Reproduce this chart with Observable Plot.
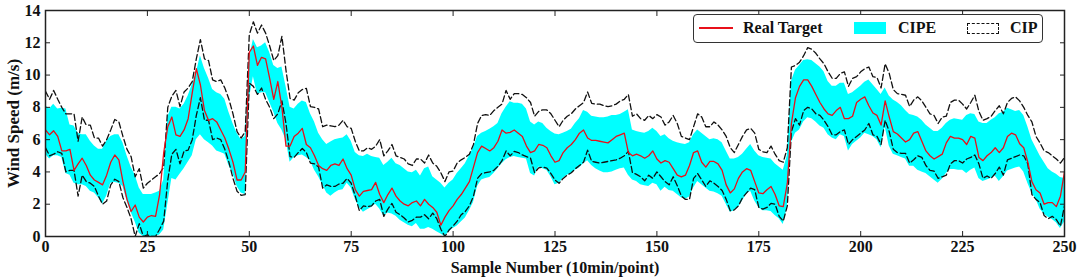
<!DOCTYPE html>
<html><head><meta charset="utf-8">
<script src="https://cdn.jsdelivr.net/npm/d3@7"></script>
<script src="https://cdn.jsdelivr.net/npm/@observablehq/plot@0.6"></script>
<style>
body{margin:0;background:#fff;}
#wrap{position:relative;width:1079px;height:280px;font-family:"Liberation Serif","Times New Roman",serif;font-weight:bold;color:#111;}
#legend{position:absolute;left:693px;top:14px;width:350px;height:29px;box-sizing:border-box;border:1.5px solid #333;border-radius:4px;background:#fff;font-size:16px;}
#legend .t{position:absolute;top:0;line-height:26px;}
#legend .ln{position:absolute;left:5px;top:12px;width:34px;height:1.5px;background:#e8101a;}
#legend .sw{position:absolute;left:160px;top:7px;width:32px;height:12px;background:#00ffff;}
#legend .ds{position:absolute;left:273px;top:8px;width:30px;height:9px;border:1.3px dashed #111;}
</style></head>
<body><div id="wrap"></div>
<script>
const xTickValues = [0,25,50,75,100,125,150,175,200,225,250];
const yTickValues = [0,2,4,6,8,10,12,14];
const seriesNames = ["Real Target","CIPE","CIP"];

const realTarget = [
6.6,6.3,6.55,6.2,5.3,5.3,5.4,4.1,4.5,4.85,
4.4,3.8,3.5,3.35,3.2,3.8,4.6,5.05,4.75,3.4,
2.3,1.55,1.95,1.2,0.9,1.2,1.3,1.25,2.6,5.2,
6.8,7.4,6.3,6.2,6.6,7.3,8.9,10.4,9.4,7.8,
7.2,7.3,7.1,6.6,6.1,5.4,4.6,3.5,3.5,4.0,
11.4,11.8,10.6,11.1,11.0,9.8,8.5,9.6,8.0,5.6,
5.6,6.2,6.4,6.7,5.7,5.5,5.0,4.4,4.2,4.1,
4.4,4.5,4.4,4.8,4.2,3.8,2.9,2.5,2.8,2.85,
2.9,3.35,2.6,2.1,2.6,3.0,2.5,2.2,2.0,1.9,
2.1,2.2,1.9,2.3,2.0,1.8,1.5,0.7,1.2,1.6,
1.9,2.3,2.6,3.0,3.4,4.3,5.2,5.6,5.45,5.3,
5.5,5.9,6.6,6.4,6.45,6.6,6.4,6.2,5.6,5.2,
5.3,5.7,5.65,5.5,5.0,4.6,4.7,5.2,5.5,5.7,
6.0,6.4,6.6,6.1,5.95,5.95,5.9,5.85,5.8,6.0,
6.2,6.3,6.4,5.2,5.0,5.1,5.0,4.85,5.0,5.3,
4.8,4.55,4.7,4.6,4.2,3.8,3.7,3.8,4.4,5.2,
5.3,4.6,4.3,4.65,4.65,4.5,4.1,3.2,2.7,2.95,
3.6,4.0,4.2,4.1,3.4,2.7,2.65,2.9,3.1,2.6,
1.9,1.85,3.3,7.0,8.6,9.3,9.7,9.7,9.3,8.8,
8.3,7.9,7.6,7.5,7.8,8.0,7.3,7.3,7.45,8.3,
8.5,8.65,8.1,7.65,7.5,6.9,8.4,7.4,6.5,6.35,
6.1,5.85,6.0,6.4,6.5,5.9,5.3,5.0,4.8,4.95,
5.1,5.8,6.2,6.1,6.1,6.0,5.7,6.2,6.1,4.9,
4.7,5.0,5.2,5.5,5.2,5.5,6.2,6.4,6.3,5.75,
5.5,4.6,3.4,2.9,2.7,2.0,2.1,2.1,1.85,2.5,
4.0];

const cipeUpper = [
8.1,7.9,8.2,7.9,7.95,7.9,6.9,6.85,6.4,6.3,
6.3,5.9,5.6,5.4,5.4,5.9,6.2,6.3,6.3,5.8,
5.0,4.3,3.8,3.0,2.6,2.6,2.6,2.7,2.8,3.5,
7.4,8.0,8.0,7.9,8.2,8.7,9.4,10.1,11.2,10.4,
9.8,9.1,8.9,8.8,8.5,7.7,7.0,6.4,6.0,6.2,
11.0,12.2,11.7,11.8,12.0,11.4,10.6,10.4,10.5,9.3,
8.0,7.9,8.2,8.4,8.3,7.6,7.1,6.4,6.0,5.7,
5.85,6.0,6.05,6.1,6.3,5.9,5.2,5.0,4.95,5.1,
4.95,4.9,4.85,4.4,4.6,4.85,4.5,4.4,4.2,4.0,
3.95,4.1,3.75,4.2,4.3,3.7,3.5,3.3,3.0,3.3,
3.5,3.9,4.2,4.5,5.0,5.5,6.2,6.4,6.5,6.65,
6.8,7.0,7.6,8.0,8.35,8.25,8.25,8.2,7.9,7.1,
6.9,7.1,7.0,6.7,6.5,6.35,6.3,6.4,6.5,6.65,
7.0,7.3,7.8,7.7,7.45,7.4,7.35,7.35,7.4,7.5,
7.5,7.55,7.7,7.85,6.6,6.5,6.45,6.4,6.5,6.7,
6.5,6.2,6.3,6.05,5.9,5.8,5.75,5.7,5.8,6.3,
6.6,6.4,6.2,6.0,6.05,6.0,5.8,5.3,4.8,4.8,
4.9,5.1,5.4,5.7,5.3,5.0,4.9,4.85,4.8,4.5,
4.3,4.1,5.0,9.6,10.3,10.6,10.9,10.95,10.9,10.7,
10.5,10.2,9.6,9.3,9.3,9.5,9.5,8.8,8.9,9.1,
9.3,9.55,9.7,9.4,9.1,8.8,9.2,8.7,8.45,8.3,
8.1,7.8,7.55,7.5,7.4,7.2,6.9,6.7,6.5,6.5,
6.7,7.0,7.2,7.3,7.25,7.2,7.5,7.6,7.55,7.1,
7.0,7.0,7.2,7.35,7.6,7.7,7.95,7.85,7.75,7.8,
7.5,6.8,6.0,5.5,5.0,4.6,4.2,4.0,3.85,3.65,
3.6];

const cipeLower = [
5.1,4.8,5.0,5.0,4.9,3.9,3.8,3.3,3.2,3.2,
3.1,2.8,2.7,2.4,2.0,2.5,3.3,3.35,3.3,3.1,
2.2,1.5,0.9,0.2,0.0,0.0,0.0,0.0,0.1,0.4,
2.0,3.6,3.5,3.85,4.2,4.6,5.0,6.0,6.3,6.0,
5.8,5.6,5.3,5.2,5.1,4.4,3.9,3.1,2.7,2.6,
8.5,9.9,8.8,8.9,8.9,8.3,7.7,7.0,6.6,6.0,
4.6,4.9,5.0,5.05,4.9,4.7,4.1,3.7,3.2,2.7,
2.5,2.7,2.85,2.9,3.3,3.0,2.3,1.8,1.5,1.65,
1.8,2.0,1.7,1.25,1.45,1.4,1.25,1.0,0.85,0.7,
0.6,0.8,0.45,0.45,0.55,0.45,0.3,0.15,0.0,0.3,
0.5,0.65,0.9,1.15,1.6,2.1,3.1,3.5,3.6,3.65,
3.9,4.2,4.5,4.75,4.9,4.95,4.9,4.85,4.8,3.9,
3.75,4.3,4.2,4.1,3.7,3.2,3.3,3.6,3.8,3.9,
4.1,4.25,4.5,4.7,4.4,4.2,4.05,3.95,3.95,4.0,
4.1,4.2,4.25,3.8,3.5,3.4,3.2,3.15,3.1,3.3,
3.2,2.8,3.05,2.85,2.8,2.6,2.4,2.3,2.45,3.0,
3.4,3.2,3.0,2.8,2.75,2.65,2.5,2.0,1.5,1.6,
1.8,2.2,2.6,2.8,2.2,1.8,1.6,1.6,1.55,1.3,
1.1,0.75,1.8,5.8,6.4,6.6,7.1,7.35,7.3,7.1,
6.85,6.7,6.3,6.1,6.0,6.3,6.2,5.3,5.7,5.9,
6.1,6.4,6.3,6.2,6.0,5.5,6.8,5.6,5.1,5.0,
4.9,4.8,4.35,4.35,4.1,4.0,3.9,3.7,3.5,3.3,
3.55,3.9,4.15,4.15,4.1,4.1,3.9,4.1,4.25,3.6,
3.4,3.5,3.6,3.75,3.4,3.7,4.05,4.15,4.25,4.3,
4.0,3.3,2.7,2.3,1.7,1.4,1.2,1.05,0.85,0.5,
0.9];

const cipUpper = [
9.0,8.5,9.05,8.5,8.0,7.6,7.6,7.6,5.9,7.4,
6.9,6.9,6.1,6.1,5.6,6.0,6.6,7.25,7.1,6.2,
5.4,4.95,3.7,4.2,3.0,3.3,3.5,3.7,3.9,4.3,
8.0,8.7,9.05,8.05,8.95,9.2,9.6,11.0,12.2,11.0,
10.9,9.7,9.6,9.7,9.2,8.5,7.6,6.5,6.1,6.5,
12.5,13.3,12.6,13.1,12.6,11.8,10.9,11.2,12.4,10.3,
8.55,8.45,8.9,9.1,9.18,8.05,8.0,7.9,6.8,6.9,
6.85,6.8,6.9,7.2,6.8,6.7,5.9,5.3,5.3,5.5,
5.4,5.6,6.0,5.0,5.3,5.7,5.0,4.9,4.8,4.5,
4.4,4.8,4.8,4.55,5.05,4.55,4.35,3.95,3.4,4.0,
4.05,4.55,4.75,4.9,5.1,5.7,7.0,7.5,7.55,7.5,
7.8,8.0,8.2,9.05,8.5,8.85,8.85,8.8,8.6,8.3,
7.45,7.75,7.85,7.84,7.6,7.2,6.8,7.2,7.45,7.6,
7.9,8.1,8.3,8.95,8.25,8.2,8.2,8.1,8.05,8.1,
8.2,8.4,8.5,8.8,7.45,7.6,7.3,7.2,7.5,7.3,
7.55,7.4,6.9,7.1,7.5,7.0,6.2,6.1,6.0,6.8,
7.6,7.4,6.8,6.8,7.1,6.9,6.6,6.2,5.5,5.2,
5.7,6.2,6.6,6.7,6.4,5.4,5.25,5.2,5.6,5.1,
4.7,4.6,5.5,10.5,10.6,10.8,11.2,11.7,11.6,11.35,
11.0,10.7,10.2,9.8,9.8,10.1,10.2,9.3,9.8,9.9,
10.2,10.4,10.5,9.9,9.85,9.2,10.7,10.1,9.1,8.85,
8.8,8.75,8.05,8.45,8.65,8.4,8.0,7.6,7.5,7.0,
7.4,7.45,8.3,8.45,8.45,8.2,7.9,8.3,8.75,7.75,
7.2,7.3,7.45,7.8,8.1,7.6,8.3,8.55,8.65,8.4,
8.0,7.5,7.1,6.2,5.8,5.3,5.2,5.0,4.8,4.55,
4.9];

const cipLower = [
5.5,5.0,5.1,5.25,5.15,4.0,4.1,4.1,2.5,3.8,
3.4,3.3,3.1,2.5,2.0,2.2,3.2,3.55,3.4,2.4,
1.8,1.1,0.0,0.8,0.0,0.1,0.0,0.0,0.45,0.95,
3.5,5.1,5.4,4.5,5.3,5.35,6.0,7.5,8.6,7.2,
7.2,6.0,6.1,6.0,5.4,4.6,3.6,2.8,2.55,2.6,
9.5,9.3,8.8,9.2,8.5,8.0,7.3,7.6,8.4,7.0,
4.95,4.9,5.2,5.45,5.2,4.55,4.5,4.3,3.0,3.2,
3.1,3.1,3.25,3.3,3.6,3.3,2.5,1.6,1.9,1.85,
1.9,2.2,2.3,1.25,1.7,2.05,1.5,1.35,1.15,0.9,
1.0,1.2,1.2,1.35,1.1,1.45,1.1,0.45,0.0,0.4,
0.65,0.95,1.35,1.55,1.9,2.5,3.6,3.9,3.95,4.0,
4.1,4.35,4.7,5.3,5.0,5.27,5.2,5.05,4.95,4.85,
3.95,4.25,4.3,4.24,3.9,3.5,3.3,3.6,3.8,3.95,
4.2,4.4,4.6,5.35,4.65,4.6,4.55,4.6,4.65,4.7,
4.75,4.85,5.0,5.27,3.95,3.85,3.7,3.45,3.8,3.6,
4.0,3.7,3.4,3.2,3.7,3.15,2.5,2.3,2.3,3.6,
3.9,3.5,3.1,3.45,3.3,3.1,2.85,2.3,1.6,1.65,
1.9,2.4,2.7,3.0,2.9,1.8,1.7,1.8,2.05,2.0,
1.25,0.95,1.9,6.5,7.3,6.9,7.8,8.0,7.9,7.6,
7.5,7.2,6.8,6.3,6.3,6.5,6.6,5.7,6.0,6.2,
6.4,6.6,7.0,6.3,6.2,5.7,7.2,6.5,5.4,5.2,
5.15,5.15,4.55,4.75,5.0,4.9,4.4,4.1,4.05,3.6,
3.7,3.8,4.5,4.7,4.7,4.55,4.8,4.9,5.05,4.5,
3.6,3.75,3.6,3.9,4.3,3.8,4.75,4.85,4.95,5.05,
5.0,4.5,2.6,2.3,2.1,1.3,1.1,1.25,1.05,0.65,
1.9];

const sampleNumbers = d3.range(realTarget.length);
const rows = sampleNumbers.map((s, i) => ({
  s, real: realTarget[i], eu: cipeUpper[i], el: cipeLower[i], cu: cipUpper[i], cl: cipLower[i]
}));

const font = '"Liberation Serif","Times New Roman",serif';
const chart = Plot.plot({
  width: 1079, height: 280,
  marginLeft: 45, marginRight: 15, marginTop: 10, marginBottom: 44,
  style: {fontFamily: font, fontWeight: "bold", fontSize: "16px", color: "#111", background: "#fff"},
  x: {domain: [0, 250]},
  y: {domain: [0, 14]},
  marks: [
    Plot.areaY(rows, {x: "s", y1: "el", y2: "eu", fill: "#00ffff", clip: true}),
    Plot.line(rows, {x: "s", y: "cu", stroke: "#111", strokeWidth: 1.3, strokeDasharray: "6,3", clip: true}),
    Plot.line(rows, {x: "s", y: "cl", stroke: "#111", strokeWidth: 1.3, strokeDasharray: "6,3", clip: true}),
    Plot.line(rows, {x: "s", y: "real", stroke: "#e8101a", strokeWidth: 1.3, clip: true}),
    Plot.frame({stroke: "#222", strokeWidth: 1.5}),
    Plot.axisX({ticks: xTickValues, tickSize: 0, tickPadding: 4, label: null, fontSize: 16, fontWeight: "bold"}),
    Plot.axisX({ticks: xTickValues, tickSize: -5, fill: "none", stroke: "#222"}),
    Plot.axisX({ticks: xTickValues, anchor: "top", tickSize: -5, fill: "none", stroke: "#222"}),
    Plot.axisY({ticks: yTickValues, tickSize: 0, tickPadding: 5, label: null, fontSize: 16, fontWeight: "bold"}),
    Plot.axisY({ticks: yTickValues, tickSize: -5, fill: "none", stroke: "#222"}),
    Plot.axisY({ticks: yTickValues, anchor: "right", tickSize: -5, fill: "none", stroke: "#222"}),
    Plot.text(["Sample Number (10min/point)"], {frameAnchor: "bottom", dy: 31, lineAnchor: "middle", textAnchor: "middle", fontSize: 16, fontWeight: "bold", fill: "#111"}),
    Plot.text(["Wind Speed (m/s)"], {frameAnchor: "left", dx: -32, rotate: -90, lineAnchor: "middle", textAnchor: "middle", fontSize: 17, fontWeight: "bold", fill: "#111"})
  ]
});
const wrap = document.getElementById("wrap");
wrap.appendChild(chart);

const legend = document.createElement("div");
legend.id = "legend";
legend.innerHTML =
  `<div class="ln"></div><div class="t" style="left:49px">${seriesNames[0]}</div>` +
  `<div class="sw"></div><div class="t" style="left:204px">${seriesNames[1]}</div>` +
  `<div class="ds"></div><div class="t" style="left:316px">${seriesNames[2]}</div>`;
wrap.appendChild(legend);
</script>
</body></html>
